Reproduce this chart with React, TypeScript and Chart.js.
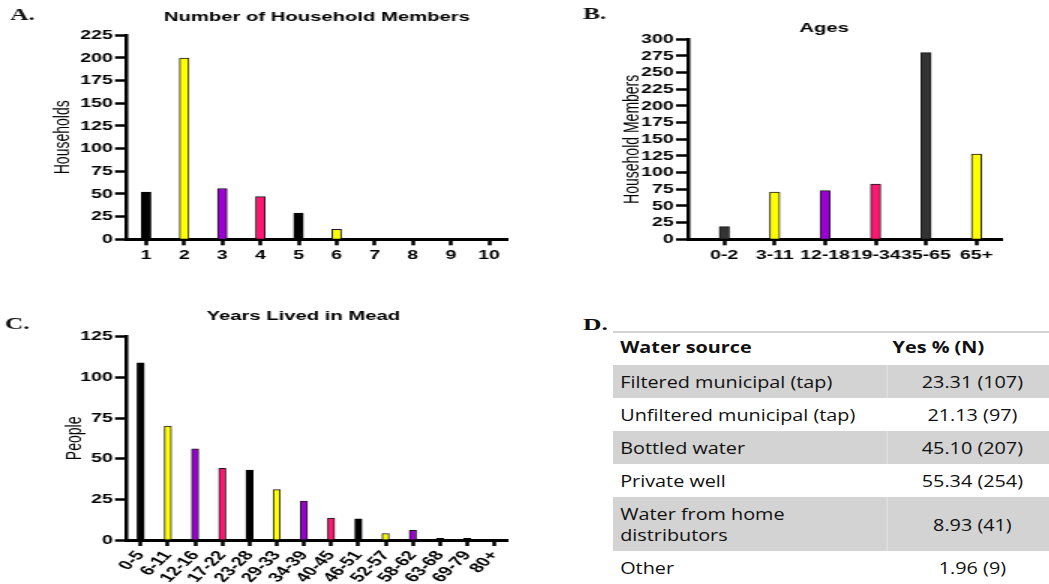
import React, { useEffect, useRef } from "react";
import { Chart, registerables } from "chart.js";

Chart.register(...registerables);

// ---------------- DATA ----------------
// A. Number of Household Members
const householdSizes = ["1", "2", "3", "4", "5", "6", "7", "8", "9", "10"];
const householdCounts = [52, 200, 56, 47, 29, 11, 1, 1, 1, 1];
const householdAxisMax = 225;
const householdAxisStep = 25;

// B. Ages
const ageGroups = ["0-2", "3-11", "12-18", "19-34", "35-65", "65+"];
const ageCounts = [19, 71, 73, 83, 280, 128];
const ageAxisMax = 300;
const ageAxisStep = 25;

// C. Years Lived in Mead
const yearsGroups = ["0-5", "6-11", "12-16", "17-22", "23-28", "29-33", "34-39", "40-45", "46-51", "52-57", "58-62", "63-68", "69-79", "80+"];
const yearsCounts = [109, 70, 56, 44, 43, 31, 24, 13.5, 13, 4, 6, 1, 1, 0];
const yearsAxisMax = 125;
const yearsAxisStep = 25;

// D. Water source table
const waterSources = ["Filtered municipal (tap)", "Unfiltered municipal (tap)", "Bottled water", "Private well", "Water from home\ndistributors", "Other"];
const waterYesPct = [23.31, 21.13, 45.1, 55.34, 8.93, 1.96];
const waterYesN = [107, 97, 207, 254, 41, 9];

// ---------------- STYLE ----------------
const STRETCH = 1.5;
const SANS = '"Liberation Sans", Arial, Helvetica, sans-serif';
const SERIF = '"Liberation Serif", "Times New Roman", serif';
const BLACK = "#000000";
const DARK = "#333333";
const YELLOW = "#ffff00";
const PURPLE = "#9b00d3";
const PINK = "#ff1670";

const cycle = (n: number, pal: string[]) => Array.from({ length: n }, (_, i) => pal[i % pal.length]);
const borderFor = (cols: string[]) => cols.map((c) => (c === BLACK ? BLACK : "#1a1a1a"));

const panelTextPlugin = {
  id: "panelText",
  afterDraw(chart: any, _args: any, opts: any) {
    const ctx = chart.ctx as CanvasRenderingContext2D;
    ctx.save();
    ctx.fillStyle = "#111";
    ctx.textBaseline = "middle";
    ctx.textAlign = "left";
    ctx.font = `bold 17px ${SERIF}`;
    ctx.fillText(opts.letter, opts.letterX, opts.letterY);
    ctx.fillStyle = "#000";
    ctx.textAlign = "center";
    ctx.font = `bold 13.5px ${SANS}`;
    ctx.fillText(opts.title, opts.titleX, opts.titleY);
    ctx.restore();
  },
};

type PanelSpec = {
  canvasW: number;
  canvasH: number;
  area: { left: number; right: number; top: number; bottom: number };
  yTitleX: number;
  labels: string[];
  values: number[];
  colors: string[];
  yMax: number;
  yStep: number;
  yTitle: string;
  title: string;
  titleX: number;
  titleY: number;
  letter: string;
  letterX: number;
  letterY: number;
  barThickness: number;
  rotation: number;
  xFontSize: number;
  xMin?: number;
};

function buildConfig(p: PanelSpec): any {
  const yTitleSize = 14;
  const padLeft = p.yTitleX - (yTitleSize * 1.2) / 2;
  const yAxisW = p.area.left - padLeft;
  const xAxisH = p.canvasH - p.area.bottom;
  const linear = p.xMin !== undefined;
  const data = linear ? p.values.map((v, i) => ({ x: i, y: v })) : p.values;

  const xScale: any = {
    type: linear ? "linear" : "category",
    offset: !linear,
    grid: { display: true, drawOnChartArea: false, drawTicks: true, tickLength: 6, tickWidth: 2.5, tickColor: "#000", offset: false },
    border: { display: true, color: "#000", width: 3 },
    ticks: {
      color: "#000",
      font: { family: SANS, size: p.xFontSize, weight: "bold" },
      padding: 2,
      autoSkip: false,
      minRotation: p.rotation,
      maxRotation: p.rotation,
    },
    afterFit: (s: any) => {
      s.height = xAxisH;
    },
  };
  if (linear) {
    xScale.min = p.xMin;
    xScale.max = p.labels.length - 0.5;
    xScale.afterBuildTicks = (s: any) => {
      s.ticks = p.labels.map((_, i) => ({ value: i }));
    };
    xScale.ticks.callback = (v: number) => p.labels[v] ?? "";
  }

  return {
    type: "bar",
    data: {
      labels: p.labels,
      datasets: [
        {
          data,
          backgroundColor: p.colors,
          borderColor: borderFor(p.colors),
          borderWidth: 1,
          borderSkipped: "start",
          barThickness: p.barThickness,
        },
      ],
    },
    options: {
      responsive: false,
      maintainAspectRatio: false,
      animation: false,
      layout: { padding: { left: padLeft, top: p.area.top, right: p.canvasW - p.area.right, bottom: 0 } },
      plugins: {
        legend: { display: false },
        tooltip: { enabled: false },
        panelText: {
          letter: p.letter,
          letterX: p.letterX,
          letterY: p.letterY,
          title: p.title,
          titleX: p.titleX,
          titleY: p.titleY,
        },
      },
      scales: {
        x: xScale,
        y: {
          min: 0,
          max: p.yMax,
          ticks: {
            stepSize: p.yStep,
            autoSkip: false,
            color: "#000",
            font: { family: SANS, size: 13, weight: "bold" },
            padding: 1.5,
          },
          grid: { display: true, drawOnChartArea: false, drawTicks: true, tickLength: 8, tickWidth: 2.5, tickColor: "#000" },
          border: { display: true, color: "#000", width: 2.5 },
          title: { display: true, text: p.yTitle, color: "#000", font: { family: SANS, size: yTitleSize }, padding: 0 },
          afterFit: (s: any) => {
            s.width = yAxisW;
          },
        },
      },
    },
    plugins: [panelTextPlugin],
  };
}

function BarPanel({ spec, left, top }: { spec: PanelSpec; left: number; top: number }) {
  const ref = useRef<HTMLCanvasElement>(null);
  useEffect(() => {
    const chart = new Chart(ref.current as HTMLCanvasElement, buildConfig(spec));
    return () => chart.destroy();
  }, []);
  return (
    <div
      style={{
        position: "absolute",
        left,
        top,
        width: spec.canvasW,
        height: spec.canvasH,
        transform: `scaleX(${STRETCH})`,
        transformOrigin: "0 0",
      }}
    >
      <canvas
        ref={ref}
        width={spec.canvasW}
        height={spec.canvasH}
        style={{ display: "block", width: spec.canvasW, height: spec.canvasH }}
      />
    </div>
  );
}

const specA: PanelSpec = {
  canvasW: 347,
  canvasH: 270,
  area: { left: 84.7, right: 338.7, top: 35.3, bottom: 239.3 },
  yTitleX: 42,
  labels: householdSizes,
  values: householdCounts,
  colors: [BLACK, YELLOW, PURPLE, PINK, BLACK, YELLOW, BLACK, BLACK, BLACK, BLACK],
  yMax: householdAxisMax,
  yStep: householdAxisStep,
  yTitle: "Households",
  title: "Number of Household Members",
  titleX: 211.3,
  titleY: 17,
  letter: "A.",
  letterX: 6.7,
  letterY: 15.5,
  barThickness: 6.3,
  rotation: 0,
  xFontSize: 13,
};

const specB: PanelSpec = {
  canvasW: 353,
  canvasH: 270,
  area: { left: 112, right: 321.1, top: 39.3, bottom: 239.3 },
  yTitleX: 75,
  labels: ageGroups,
  values: ageCounts,
  colors: cycle(ageGroups.length, [DARK, YELLOW, PURPLE, PINK]),
  yMax: ageAxisMax,
  yStep: ageAxisStep,
  yTitle: "Household Members",
  title: "Ages",
  titleX: 202.7,
  titleY: 28,
  letter: "B.",
  letterX: 42,
  letterY: 15,
  barThickness: 6.7,
  rotation: 0,
  xFontSize: 13,
  xMin: -0.72,
};

const specC: PanelSpec = {
  canvasW: 373,
  canvasH: 284,
  area: { left: 84.7, right: 338.7, top: 36.7, bottom: 240 },
  yTitleX: 50,
  labels: yearsGroups,
  values: yearsCounts,
  colors: [BLACK, YELLOW, PURPLE, PINK, BLACK, YELLOW, PURPLE, PINK, BLACK, YELLOW, PURPLE, BLACK, BLACK, BLACK],
  yMax: yearsAxisMax,
  yStep: yearsAxisStep,
  yTitle: "People",
  title: "Years Lived in Mead",
  titleX: 202.2,
  titleY: 16,
  letter: "C.",
  letterX: 3.3,
  letterY: 24.5,
  barThickness: 4.7,
  rotation: 54,
  xFontSize: 13.5,
};

function WaterTable() {
  const rowHeights = [33, 33, 33, 33, 54, 33];
  const T_SCALE = 1.2;
  const col1 = 228;
  return (
    <div
      style={{
        position: "absolute",
        left: 613,
        top: 331,
        width: 370,
        transform: `scaleX(${T_SCALE})`,
        transformOrigin: "0 0",
        fontFamily: '"Open Sans", "Noto Sans", sans-serif',
        fontSize: 16.5,
        fontWeight: 500,
        color: "#111",
        lineHeight: "21px",
      }}
    >
      <div
        style={{
          boxSizing: "border-box",
          borderTop: "2px solid #d2d2d2",
          height: 34,
          paddingBottom: 5,
          display: "flex",
          alignItems: "center",
          fontWeight: 700,
        }}
      >
        <div style={{ width: col1, paddingLeft: 6, boxSizing: "border-box" }}>Water source</div>
        <div style={{ paddingLeft: 5 }}>Yes % (N)</div>
      </div>
      {waterSources.map((src, i) => {
        const shaded = i % 2 === 0;
        return (
          <div
            key={i}
            style={{
              height: rowHeights[i],
              display: "flex",
              alignItems: "stretch",
              background: shaded ? "#d3d3d3" : "#ffffff",
            }}
          >
            <div
              style={{
                width: col1,
                paddingLeft: 6,
                boxSizing: "border-box",
                display: "flex",
                alignItems: "center",
                whiteSpace: "pre-line",
              }}
            >
              {src}
            </div>
            <div
              style={{
                flex: 1,
                display: "flex",
                alignItems: "center",
                justifyContent: "center",
                borderLeft: shaded ? "1px solid #e2e2e2" : "1px solid transparent",
              }}
            >
              {`${waterYesPct[i].toFixed(2)} (${waterYesN[i]})`}
            </div>
          </div>
        );
      })}
      <div style={{ borderTop: "2px solid #d2d2d2" }} />
    </div>
  );
}

export default function App() {
  return (
    <div
      style={{
        position: "fixed",
        left: 0,
        top: 0,
        width: 1049,
        height: 584,
        overflow: "hidden",
        background: "#ffffff",
      }}
    >
      <BarPanel spec={specA} left={0} top={0} />
      <BarPanel spec={specB} left={520} top={0} />
      <BarPanel spec={specC} left={0} top={300} />
      <div
        style={{
          position: "absolute",
          left: 583,
          top: 316,
          fontFamily: SERIF,
          fontWeight: 700,
          fontSize: 17,
          lineHeight: "17px",
          color: "#111",
          transform: `scaleX(${STRETCH})`,
          transformOrigin: "0 0",
        }}
      >
        D.
      </div>
      <WaterTable />
    </div>
  );
}
